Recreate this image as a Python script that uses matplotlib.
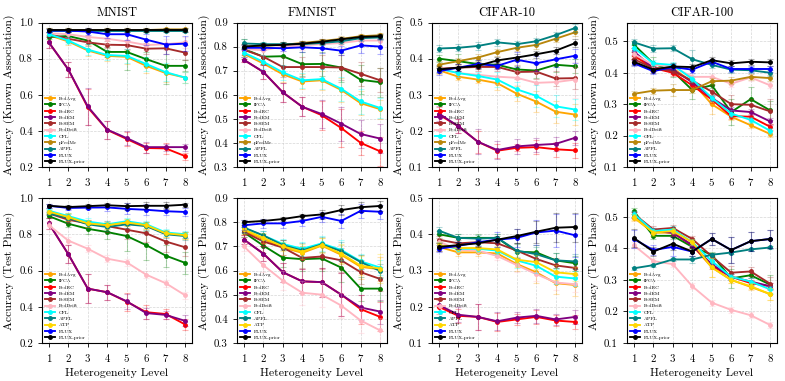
import matplotlib
matplotlib.use("Agg")
import matplotlib.pyplot as plt
import numpy as np

plt.rcParams["font.family"] = ["cmr10", "DejaVu Serif"]
plt.rcParams["mathtext.fontset"] = "cm"
plt.rcParams["axes.formatter.use_mathtext"] = True

levels = [1, 2, 3, 4, 5, 6, 7, 8]
datasets = ["MNIST", "FMNIST", "CIFAR-10", "CIFAR-100"]

methods_known = ["FedAvg", "IFCA", "FedRC", "FedEM", "FeSEM", "FedDrift",
                 "CFL", "pFedMe", "APFL", "FLUX", "FLUX-prior"]
methods_test = ["FedAvg", "IFCA", "FedRC", "FedEM", "FeSEM", "FedDrift",
                "CFL", "APFL", "ATP", "FLUX", "FLUX-prior"]

colors = {
    "FedAvg": "#FFA500", "IFCA": "#008000", "FedRC": "#FF0000",
    "FedEM": "#800080", "FeSEM": "#A52A2A", "FedDrift": "#FFB6C1",
    "CFL": "#00FFFF", "pFedMe": "#B8860B", "APFL": "#008080",
    "ATP": "#FFD700", "FLUX": "#0000FF", "FLUX-prior": "#000000",
}

# ---- known association (top row) ----
mnist_known = {
    "FedAvg":     [0.930, 0.895, 0.845, 0.815, 0.810, 0.760, 0.720, 0.695],
    "IFCA":       [0.920, 0.925, 0.900, 0.837, 0.837, 0.797, 0.760, 0.760],
    "FedRC":      [0.890, 0.740, 0.530, 0.405, 0.355, 0.305, 0.303, 0.260],
    "FedEM":      [0.890, 0.740, 0.535, 0.407, 0.360, 0.310, 0.310, 0.310],
    "FeSEM":      [0.935, 0.910, 0.890, 0.877, 0.875, 0.855, 0.857, 0.833],
    "FedDrift":   [0.940, 0.935, 0.920, 0.910, 0.895, 0.875, 0.880, 0.890],
    "CFL":        [0.935, 0.900, 0.850, 0.820, 0.815, 0.770, 0.725, 0.695],
    "pFedMe":     [0.958, 0.958, 0.958, 0.958, 0.958, 0.958, 0.962, 0.962],
    "APFL":       [0.955, 0.955, 0.955, 0.955, 0.955, 0.955, 0.955, 0.955],
    "FLUX":       [0.955, 0.955, 0.950, 0.935, 0.935, 0.905, 0.878, 0.883],
    "FLUX-prior": [0.958, 0.958, 0.958, 0.958, 0.958, 0.958, 0.958, 0.958],
}
mnist_known_err = {
    "FedAvg":     [0.01, 0.02, 0.03, 0.03, 0.04, 0.04, 0.05, 0.03],
    "IFCA":       [0.01, 0.02, 0.02, 0.03, 0.10, 0.04, 0.10, 0.03],
    "FedRC":      [0.03, 0.04, 0.10, 0.05, 0.04, 0.03, 0.03, 0.02],
    "FedEM":      [0.03, 0.04, 0.10, 0.05, 0.04, 0.03, 0.02, 0.02],
    "FeSEM":      [0.01, 0.02, 0.02, 0.02, 0.02, 0.03, 0.03, 0.04],
    "FedDrift":   [0.01, 0.02, 0.03, 0.03, 0.03, 0.03, 0.03, 0.03],
    "CFL":        [0.01, 0.02, 0.03, 0.03, 0.04, 0.04, 0.05, 0.03],
    "pFedMe":     [0.01, 0.01, 0.01, 0.01, 0.01, 0.01, 0.01, 0.01],
    "APFL":       [0.01, 0.01, 0.01, 0.01, 0.01, 0.01, 0.01, 0.01],
    "FLUX":       [0.01, 0.01, 0.02, 0.02, 0.03, 0.03, 0.05, 0.04],
    "FLUX-prior": [0.01, 0.01, 0.01, 0.01, 0.01, 0.01, 0.01, 0.01],
}
fmnist_known = {
    "FedAvg":     [0.770, 0.730, 0.685, 0.655, 0.660, 0.620, 0.565, 0.540],
    "IFCA":       [0.790, 0.758, 0.760, 0.727, 0.728, 0.713, 0.662, 0.652],
    "FedRC":      [0.745, 0.695, 0.610, 0.550, 0.515, 0.462, 0.400, 0.365],
    "FedEM":      [0.745, 0.695, 0.610, 0.550, 0.520, 0.480, 0.437, 0.418],
    "FeSEM":      [0.787, 0.758, 0.715, 0.715, 0.715, 0.713, 0.687, 0.660],
    "FedDrift":   [0.790, 0.785, 0.800, 0.805, 0.810, 0.815, 0.825, 0.825],
    "CFL":        [0.775, 0.737, 0.693, 0.660, 0.665, 0.625, 0.572, 0.545],
    "pFedMe":     [0.800, 0.803, 0.807, 0.815, 0.823, 0.832, 0.843, 0.847],
    "APFL":       [0.813, 0.810, 0.810, 0.810, 0.815, 0.822, 0.835, 0.838],
    "FLUX":       [0.795, 0.795, 0.793, 0.797, 0.793, 0.783, 0.805, 0.800],
    "FLUX-prior": [0.800, 0.805, 0.807, 0.812, 0.820, 0.830, 0.840, 0.843],
}
fmnist_known_err = {
    "FedAvg":     [0.02, 0.03, 0.03, 0.03, 0.04, 0.05, 0.05, 0.04],
    "IFCA":       [0.04, 0.03, 0.04, 0.05, 0.05, 0.06, 0.06, 0.06],
    "FedRC":      [0.01, 0.03, 0.04, 0.04, 0.06, 0.08, 0.05, 0.06],
    "FedEM":      [0.01, 0.03, 0.04, 0.04, 0.06, 0.07, 0.06, 0.06],
    "FeSEM":      [0.02, 0.03, 0.04, 0.04, 0.05, 0.05, 0.05, 0.05],
    "FedDrift":   [0.02, 0.02, 0.02, 0.02, 0.02, 0.02, 0.02, 0.02],
    "CFL":        [0.02, 0.03, 0.03, 0.03, 0.04, 0.05, 0.05, 0.04],
    "pFedMe":     [0.01, 0.01, 0.01, 0.01, 0.01, 0.01, 0.01, 0.01],
    "APFL":       [0.02, 0.01, 0.01, 0.01, 0.01, 0.01, 0.01, 0.01],
    "FLUX":       [0.01, 0.01, 0.01, 0.02, 0.02, 0.02, 0.03, 0.03],
    "FLUX-prior": [0.01, 0.01, 0.01, 0.01, 0.01, 0.01, 0.01, 0.01],
}
cifar10_known = {
    "FedAvg":     [0.368, 0.350, 0.342, 0.332, 0.303, 0.281, 0.253, 0.245],
    "IFCA":       [0.400, 0.393, 0.385, 0.383, 0.370, 0.367, 0.383, 0.379],
    "FedRC":      [0.245, 0.213, 0.170, 0.145, 0.153, 0.155, 0.149, 0.146],
    "FedEM":      [0.248, 0.213, 0.170, 0.147, 0.157, 0.161, 0.164, 0.181],
    "FeSEM":      [0.372, 0.375, 0.377, 0.377, 0.363, 0.364, 0.345, 0.346],
    "FedDrift":   [0.372, 0.360, 0.355, 0.350, 0.347, 0.333, 0.335, 0.342],
    "CFL":        [0.372, 0.360, 0.352, 0.342, 0.315, 0.297, 0.268, 0.259],
    "pFedMe":     [0.383, 0.393, 0.403, 0.418, 0.430, 0.438, 0.455, 0.473],
    "APFL":       [0.428, 0.430, 0.435, 0.445, 0.440, 0.448, 0.465, 0.485],
    "FLUX":       [0.365, 0.375, 0.385, 0.380, 0.397, 0.387, 0.398, 0.408],
    "FLUX-prior": [0.370, 0.375, 0.380, 0.395, 0.403, 0.412, 0.422, 0.443],
}
cifar10_known_err = {
    "FedAvg":     [0.01, 0.01, 0.01, 0.02, 0.02, 0.03, 0.03, 0.03],
    "IFCA":       [0.01, 0.02, 0.01, 0.01, 0.01, 0.02, 0.02, 0.02],
    "FedRC":      [0.02, 0.02, 0.03, 0.02, 0.01, 0.02, 0.02, 0.02],
    "FedEM":      [0.02, 0.02, 0.035, 0.025, 0.02, 0.02, 0.02, 0.02],
    "FeSEM":      [0.01, 0.01, 0.01, 0.01, 0.02, 0.02, 0.02, 0.03],
    "FedDrift":   [0.01, 0.01, 0.01, 0.02, 0.02, 0.03, 0.02, 0.05],
    "CFL":        [0.01, 0.01, 0.01, 0.02, 0.02, 0.03, 0.03, 0.03],
    "pFedMe":     [0.01, 0.01, 0.01, 0.01, 0.01, 0.01, 0.01, 0.01],
    "APFL":       [0.01, 0.01, 0.01, 0.01, 0.01, 0.01, 0.01, 0.01],
    "FLUX":       [0.01, 0.01, 0.01, 0.01, 0.02, 0.02, 0.02, 0.02],
    "FLUX-prior": [0.01, 0.01, 0.01, 0.01, 0.01, 0.01, 0.01, 0.01],
}
cifar100_known = {
    "FedAvg":     [0.455, 0.415, 0.415, 0.370, 0.300, 0.260, 0.233, 0.205],
    "IFCA":       [0.490, 0.430, 0.405, 0.345, 0.360, 0.275, 0.316, 0.280],
    "FedRC":      [0.455, 0.415, 0.400, 0.360, 0.315, 0.262, 0.260, 0.228],
    "FedEM":      [0.468, 0.415, 0.410, 0.370, 0.320, 0.280, 0.275, 0.245],
    "FeSEM":      [0.443, 0.415, 0.405, 0.375, 0.340, 0.300, 0.298, 0.277],
    "FedDrift":   [0.460, 0.425, 0.420, 0.387, 0.387, 0.365, 0.385, 0.360],
    "CFL":        [0.480, 0.430, 0.425, 0.380, 0.320, 0.270, 0.250, 0.215],
    "pFedMe":     [0.333, 0.343, 0.345, 0.345, 0.373, 0.375, 0.387, 0.383],
    "APFL":       [0.497, 0.477, 0.478, 0.443, 0.425, 0.410, 0.408, 0.400],
    "FLUX":       [0.430, 0.405, 0.418, 0.410, 0.435, 0.412, 0.412, 0.412],
    "FLUX-prior": [0.435, 0.410, 0.420, 0.418, 0.440, 0.430, 0.435, 0.433],
}
cifar100_known_err = {
    "FedAvg":     [0.01, 0.01, 0.01, 0.02, 0.03, 0.01, 0.01, 0.01],
    "IFCA":       [0.01, 0.02, 0.02, 0.03, 0.01, 0.04, 0.04, 0.03],
    "FedRC":      [0.01, 0.01, 0.01, 0.01, 0.01, 0.01, 0.01, 0.01],
    "FedEM":      [0.01, 0.01, 0.01, 0.01, 0.01, 0.01, 0.01, 0.01],
    "FeSEM":      [0.01, 0.01, 0.01, 0.01, 0.02, 0.03, 0.02, 0.04],
    "FedDrift":   [0.01, 0.01, 0.01, 0.01, 0.01, 0.01, 0.01, 0.01],
    "CFL":        [0.01, 0.01, 0.01, 0.01, 0.01, 0.01, 0.01, 0.01],
    "pFedMe":     [0.01, 0.01, 0.02, 0.01, 0.01, 0.01, 0.01, 0.01],
    "APFL":       [0.01, 0.01, 0.01, 0.03, 0.01, 0.01, 0.01, 0.01],
    "FLUX":       [0.01, 0.01, 0.01, 0.01, 0.01, 0.01, 0.01, 0.01],
    "FLUX-prior": [0.01, 0.01, 0.01, 0.01, 0.01, 0.01, 0.01, 0.01],
}

# ---- test phase (bottom row) ----
mnist_test = {
    "FedAvg":     [0.920, 0.895, 0.860, 0.850, 0.865, 0.847, 0.805, 0.795],
    "IFCA":       [0.900, 0.858, 0.830, 0.812, 0.790, 0.740, 0.682, 0.642],
    "FedRC":      [0.860, 0.690, 0.500, 0.480, 0.428, 0.370, 0.360, 0.302],
    "FedEM":      [0.860, 0.690, 0.500, 0.480, 0.430, 0.365, 0.355, 0.322],
    "FeSEM":      [0.915, 0.880, 0.860, 0.845, 0.825, 0.805, 0.760, 0.728],
    "FedDrift":   [0.850, 0.765, 0.720, 0.665, 0.645, 0.577, 0.530, 0.463],
    "CFL":        [0.930, 0.900, 0.870, 0.855, 0.872, 0.855, 0.810, 0.800],
    "APFL":       [0.915, 0.890, 0.855, 0.840, 0.855, 0.845, 0.800, 0.790],
    "ATP":        [0.925, 0.895, 0.860, 0.850, 0.865, 0.850, 0.805, 0.795],
    "FLUX":       [0.957, 0.945, 0.947, 0.948, 0.940, 0.935, 0.927, 0.923],
    "FLUX-prior": [0.957, 0.950, 0.955, 0.960, 0.955, 0.957, 0.957, 0.963],
}
mnist_test_err = {
    "FedAvg":     [0.01, 0.02, 0.02, 0.02, 0.02, 0.02, 0.02, 0.02],
    "IFCA":       [0.01, 0.02, 0.03, 0.04, 0.08, 0.08, 0.06, 0.06],
    "FedRC":      [0.03, 0.05, 0.08, 0.04, 0.05, 0.04, 0.03, 0.03],
    "FedEM":      [0.03, 0.05, 0.08, 0.04, 0.04, 0.03, 0.02, 0.03],
    "FeSEM":      [0.01, 0.02, 0.02, 0.03, 0.05, 0.05, 0.06, 0.05],
    "FedDrift":   [0.02, 0.02, 0.02, 0.02, 0.02, 0.02, 0.02, 0.02],
    "CFL":        [0.01, 0.02, 0.02, 0.02, 0.02, 0.02, 0.02, 0.02],
    "APFL":       [0.01, 0.02, 0.02, 0.02, 0.02, 0.02, 0.02, 0.02],
    "ATP":        [0.01, 0.02, 0.02, 0.02, 0.02, 0.02, 0.02, 0.02],
    "FLUX":       [0.01, 0.01, 0.01, 0.02, 0.03, 0.03, 0.02, 0.02],
    "FLUX-prior": [0.01, 0.01, 0.01, 0.01, 0.02, 0.02, 0.02, 0.01],
}
fmnist_test = {
    "FedAvg":     [0.765, 0.730, 0.695, 0.673, 0.703, 0.665, 0.615, 0.605],
    "IFCA":       [0.758, 0.703, 0.653, 0.647, 0.650, 0.612, 0.525, 0.525],
    "FedRC":      [0.728, 0.670, 0.593, 0.555, 0.552, 0.500, 0.440, 0.408],
    "FedEM":      [0.728, 0.670, 0.593, 0.555, 0.552, 0.500, 0.447, 0.430],
    "FeSEM":      [0.760, 0.720, 0.695, 0.652, 0.658, 0.642, 0.593, 0.565],
    "FedDrift":   [0.700, 0.622, 0.558, 0.508, 0.500, 0.455, 0.393, 0.352],
    "CFL":        [0.775, 0.745, 0.710, 0.690, 0.712, 0.685, 0.638, 0.612],
    "APFL":       [0.778, 0.745, 0.705, 0.683, 0.708, 0.680, 0.635, 0.598],
    "ATP":        [0.770, 0.735, 0.700, 0.678, 0.705, 0.670, 0.620, 0.608],
    "FLUX":       [0.787, 0.795, 0.795, 0.805, 0.822, 0.805, 0.847, 0.843],
    "FLUX-prior": [0.800, 0.805, 0.813, 0.825, 0.832, 0.850, 0.862, 0.867],
}
fmnist_test_err = {
    "FedAvg":     [0.02, 0.02, 0.03, 0.03, 0.03, 0.04, 0.05, 0.05],
    "IFCA":       [0.02, 0.03, 0.04, 0.05, 0.05, 0.06, 0.05, 0.05],
    "FedRC":      [0.02, 0.03, 0.04, 0.05, 0.06, 0.09, 0.06, 0.06],
    "FedEM":      [0.02, 0.03, 0.04, 0.05, 0.06, 0.09, 0.05, 0.05],
    "FeSEM":      [0.02, 0.02, 0.03, 0.04, 0.05, 0.05, 0.05, 0.05],
    "FedDrift":   [0.02, 0.03, 0.04, 0.05, 0.05, 0.05, 0.05, 0.05],
    "CFL":        [0.02, 0.02, 0.02, 0.03, 0.03, 0.04, 0.03, 0.03],
    "APFL":       [0.02, 0.02, 0.02, 0.03, 0.03, 0.04, 0.03, 0.03],
    "ATP":        [0.02, 0.02, 0.02, 0.03, 0.03, 0.04, 0.04, 0.06],
    "FLUX":       [0.02, 0.02, 0.02, 0.02, 0.02, 0.03, 0.03, 0.03],
    "FLUX-prior": [0.01, 0.01, 0.01, 0.01, 0.02, 0.02, 0.02, 0.02],
}
cifar10_test = {
    "FedAvg":     [0.365, 0.350, 0.350, 0.347, 0.318, 0.295, 0.265, 0.260],
    "IFCA":       [0.400, 0.390, 0.390, 0.390, 0.352, 0.350, 0.328, 0.320],
    "FedRC":      [0.200, 0.175, 0.172, 0.158, 0.165, 0.172, 0.162, 0.158],
    "FedEM":      [0.205, 0.178, 0.172, 0.160, 0.170, 0.175, 0.165, 0.172],
    "FeSEM":      [0.385, 0.375, 0.378, 0.375, 0.355, 0.332, 0.314, 0.307],
    "FedDrift":   [0.380, 0.357, 0.355, 0.340, 0.315, 0.290, 0.267, 0.262],
    "CFL":        [0.370, 0.360, 0.360, 0.355, 0.328, 0.313, 0.283, 0.278],
    "APFL":       [0.410, 0.390, 0.388, 0.390, 0.355, 0.345, 0.328, 0.325],
    "ATP":        [0.370, 0.362, 0.362, 0.358, 0.330, 0.323, 0.295, 0.290],
    "FLUX":       [0.360, 0.368, 0.378, 0.385, 0.390, 0.405, 0.410, 0.397],
    "FLUX-prior": [0.365, 0.370, 0.375, 0.385, 0.395, 0.407, 0.418, 0.420],
}
cifar10_test_err = {
    "FedAvg":     [0.01, 0.01, 0.01, 0.01, 0.02, 0.03, 0.03, 0.03],
    "IFCA":       [0.01, 0.01, 0.01, 0.01, 0.02, 0.02, 0.02, 0.02],
    "FedRC":      [0.02, 0.02, 0.035, 0.025, 0.015, 0.02, 0.015, 0.02],
    "FedEM":      [0.02, 0.02, 0.035, 0.025, 0.015, 0.02, 0.015, 0.02],
    "FeSEM":      [0.01, 0.01, 0.01, 0.01, 0.02, 0.02, 0.02, 0.02],
    "FedDrift":   [0.01, 0.01, 0.01, 0.01, 0.02, 0.02, 0.02, 0.02],
    "CFL":        [0.01, 0.01, 0.01, 0.01, 0.02, 0.02, 0.02, 0.02],
    "APFL":       [0.01, 0.01, 0.01, 0.01, 0.02, 0.02, 0.02, 0.02],
    "ATP":        [0.01, 0.01, 0.01, 0.01, 0.02, 0.02, 0.02, 0.02],
    "FLUX":       [0.01, 0.01, 0.01, 0.02, 0.025, 0.035, 0.045, 0.06],
    "FLUX-prior": [0.01, 0.01, 0.01, 0.01, 0.02, 0.03, 0.04, 0.04],
}
cifar100_test = {
    "FedAvg":     [0.498, 0.450, 0.450, 0.410, 0.340, 0.300, 0.278, 0.255],
    "IFCA":       [0.518, 0.440, 0.440, 0.405, 0.380, 0.305, 0.315, 0.285],
    "FedRC":      [0.505, 0.455, 0.450, 0.410, 0.345, 0.310, 0.290, 0.280],
    "FedEM":      [0.505, 0.455, 0.450, 0.410, 0.350, 0.310, 0.295, 0.280],
    "FeSEM":      [0.510, 0.460, 0.465, 0.430, 0.375, 0.323, 0.327, 0.288],
    "FedDrift":   [0.410, 0.360, 0.350, 0.280, 0.228, 0.205, 0.188, 0.157],
    "CFL":        [0.510, 0.455, 0.460, 0.420, 0.360, 0.310, 0.295, 0.270],
    "APFL":       [0.337, 0.347, 0.365, 0.365, 0.380, 0.387, 0.397, 0.403],
    "ATP":        [0.500, 0.450, 0.455, 0.420, 0.340, 0.300, 0.280, 0.255],
    "FLUX":       [0.430, 0.395, 0.405, 0.390, 0.430, 0.395, 0.423, 0.430],
    "FLUX-prior": [0.433, 0.390, 0.415, 0.390, 0.430, 0.395, 0.423, 0.430],
}
cifar100_test_err = {
    "FedAvg":     [0.01, 0.01, 0.01, 0.01, 0.03, 0.01, 0.01, 0.02],
    "IFCA":       [0.01, 0.01, 0.01, 0.01, 0.01, 0.03, 0.01, 0.03],
    "FedRC":      [0.01, 0.01, 0.01, 0.01, 0.01, 0.01, 0.01, 0.01],
    "FedEM":      [0.01, 0.01, 0.01, 0.01, 0.01, 0.01, 0.01, 0.01],
    "FeSEM":      [0.01, 0.01, 0.01, 0.01, 0.01, 0.02, 0.015, 0.02],
    "FedDrift":   [0.01, 0.01, 0.01, 0.01, 0.01, 0.01, 0.01, 0.01],
    "CFL":        [0.01, 0.01, 0.01, 0.01, 0.01, 0.01, 0.01, 0.01],
    "APFL":       [0.005, 0.005, 0.005, 0.01, 0.005, 0.005, 0.005, 0.005],
    "ATP":        [0.01, 0.01, 0.01, 0.01, 0.03, 0.01, 0.01, 0.02],
    "FLUX":       [0.03, 0.015, 0.03, 0.015, 0.02, 0.04, 0.03, 0.03],
    "FLUX-prior": [0.03, 0.015, 0.02, 0.015, 0.02, 0.04, 0.03, 0.03],
}

top_data = [mnist_known, fmnist_known, cifar10_known, cifar100_known]
top_err = [mnist_known_err, fmnist_known_err, cifar10_known_err, cifar100_known_err]
bot_data = [mnist_test, fmnist_test, cifar10_test, cifar100_test]
bot_err = [mnist_test_err, fmnist_test_err, cifar10_test_err, cifar100_test_err]

ylims = [(0.2, 1.0), (0.3, 0.9), (0.1, 0.5), (0.1, 0.56)]
yticks = [np.arange(0.2, 1.01, 0.2), np.arange(0.3, 0.91, 0.1),
          np.arange(0.1, 0.51, 0.1), np.arange(0.1, 0.51, 0.1)]

fig = plt.figure(figsize=(7.85, 3.81), dpi=100)
lefts = [42, 237, 432, 627]


def draw(ax, data, err, methods, ylim, ticks):
    for m in methods:
        c = colors[m]
        ax.errorbar(levels, data[m], yerr=err[m], fmt="none", ecolor=c,
                    alpha=0.3, capsize=2, elinewidth=0.8, capthick=0.8)
        ax.plot(levels, data[m], color=c, lw=1.35, marker="o", ms=2.5, label=m)
    ax.set_ylim(*ylim)
    ax.set_yticks(ticks)
    ax.set_yticklabels(["%.1f" % t for t in ticks])
    ax.set_xticks(levels)
    ax.grid(True, ls="--", lw=0.5, color="#cccccc", alpha=0.8)
    ax.tick_params(labelsize=7.8, length=3, width=0.6)
    for s in ax.spines.values():
        s.set_linewidth(0.8)
    ax.legend(loc="lower left", frameon=False, fontsize=3.7, handlelength=2.0,
              labelspacing=0.33, borderaxespad=0.2, handletextpad=0.6)


for i in range(4):
    ax = fig.add_axes([lefts[i] / 785, 1 - 167 / 381, 150 / 785, 144.5 / 381])
    draw(ax, top_data[i], top_err[i], methods_known, ylims[i], yticks[i])
    ax.set_title(datasets[i], fontsize=9, pad=5)
    ax.set_ylabel("Accuracy (Known Association)", fontsize=8.5, labelpad=3)

    ax = fig.add_axes([lefts[i] / 785, 1 - 343 / 381, 150 / 785, 145 / 381])
    draw(ax, bot_data[i], bot_err[i], methods_test, ylims[i], yticks[i])
    ax.set_xlabel("Heterogeneity Level", fontsize=8.5, labelpad=3)
    ax.set_ylabel("Accuracy (Test Phase)", fontsize=8.5, labelpad=3)

fig.savefig("out.png", dpi=100)
